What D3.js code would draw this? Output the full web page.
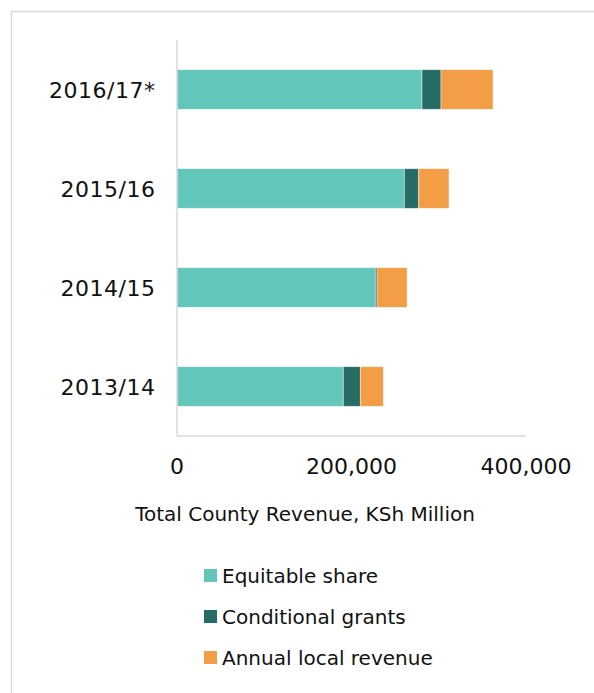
<!DOCTYPE html>
<html>
<head>
<meta charset="utf-8">
<script src="https://cdn.jsdelivr.net/npm/d3@7"></script>
<style>
  body { margin: 0; background: #fff; }
  svg { display: block; font-family: "DejaVu Sans", sans-serif; }
</style>
</head>
<body>
<div id="chart"></div>
<script>
// chart size
const width = 594;
const height = 693;

// data (KSh Million)
const years = ["2016/17*", "2015/16", "2014/15", "2013/14"];
const equitableShare = [280800, 260500, 227300, 190600];
const conditionalGrants = [21800, 16500, 2000, 19500];
const localRevenue = [59600, 34700, 34400, 26400];
const seriesNames = ["Equitable share", "Conditional grants", "Annual local revenue"];
const seriesColors = ["#62c6bb", "#276c64", "#f39d46"];
const xTicks = [0, 200000, 400000];

// plot area
const plotLeft = 177;
const plotRight = 526;
const plotTop = 40;
const plotBottom = 436;

const rows = years.map((y, i) => ({
  year: y,
  values: [equitableShare[i], conditionalGrants[i], localRevenue[i]],
}));

const stack = d3.stack().keys([0, 1, 2]).value((d, k) => d.values[k]);
const stacked = stack(rows);

const x = d3.scaleLinear().domain([0, 400000]).range([plotLeft, plotRight]);
const y = d3
  .scaleBand()
  .domain(years)
  .range([plotTop, plotBottom])
  .paddingInner(0.6)
  .paddingOuter(0.3);

const svg = d3
  .select("#chart")
  .append("svg")
  .attr("width", width)
  .attr("height", height);

// outer frame (runs off the right and bottom edges)
svg
  .append("rect")
  .attr("x", 11.5)
  .attr("y", 11.5)
  .attr("width", 700)
  .attr("height", 800)
  .attr("fill", "none")
  .attr("stroke", "#d9d9d9")
  .attr("stroke-width", 1.5);

// stacked bars
svg
  .append("g")
  .selectAll("g")
  .data(stacked)
  .join("g")
  .attr("fill", (d) => seriesColors[d.key])
  .selectAll("rect")
  .data((d) => d)
  .join("rect")
  .attr("x", (d) => x(d[0]))
  .attr("y", (d) => y(d.data.year))
  .attr("width", (d) => x(d[1]) - x(d[0]))
  .attr("height", y.bandwidth())
  .attr("stroke", "#ffffff")
  .attr("stroke-opacity", 0.6)
  .attr("stroke-width", 0.75);

// axis lines
svg
  .append("line")
  .attr("x1", plotLeft)
  .attr("x2", plotLeft)
  .attr("y1", plotTop)
  .attr("y2", plotBottom)
  .attr("stroke", "#d9d9d9")
  .attr("stroke-width", 1.5);

svg
  .append("line")
  .attr("x1", plotLeft)
  .attr("x2", plotRight)
  .attr("y1", plotBottom)
  .attr("y2", plotBottom)
  .attr("stroke", "#d9d9d9")
  .attr("stroke-width", 1.5);

// category labels
svg
  .append("g")
  .selectAll("text")
  .data(years)
  .join("text")
  .attr("x", 155.5)
  .attr("y", (d) => y(d) + y.bandwidth() / 2 + 8.5)
  .attr("text-anchor", "end")
  .attr("font-size", 22)
  .attr("letter-spacing", 0.5)
  .attr("fill", "#111")
  .text((d) => d);

// x tick labels
const fmt = d3.format(",");
svg
  .append("g")
  .selectAll("text")
  .data(xTicks)
  .join("text")
  .attr("x", (d) => x(d))
  .attr("y", 473.5)
  .attr("text-anchor", "middle")
  .attr("font-size", 22)
  .attr("fill", "#111")
  .text((d) => fmt(d));

// axis title
svg
  .append("text")
  .attr("x", 305)
  .attr("y", 521)
  .attr("text-anchor", "middle")
  .attr("font-size", 20)
  .attr("fill", "#111")
  .text("Total County Revenue, KSh Million");

// legend
const legend = svg
  .append("g")
  .selectAll("g")
  .data(seriesNames)
  .join("g")
  .attr("transform", (d, i) => `translate(204, ${569 + i * 41})`);

legend
  .append("rect")
  .attr("width", 13)
  .attr("height", 13)
  .attr("fill", (d, i) => seriesColors[i]);

legend
  .append("text")
  .attr("x", 18)
  .attr("y", 14)
  .attr("font-size", 20)
  .attr("fill", "#111")
  .text((d) => d);
</script>
</body>
</html>
